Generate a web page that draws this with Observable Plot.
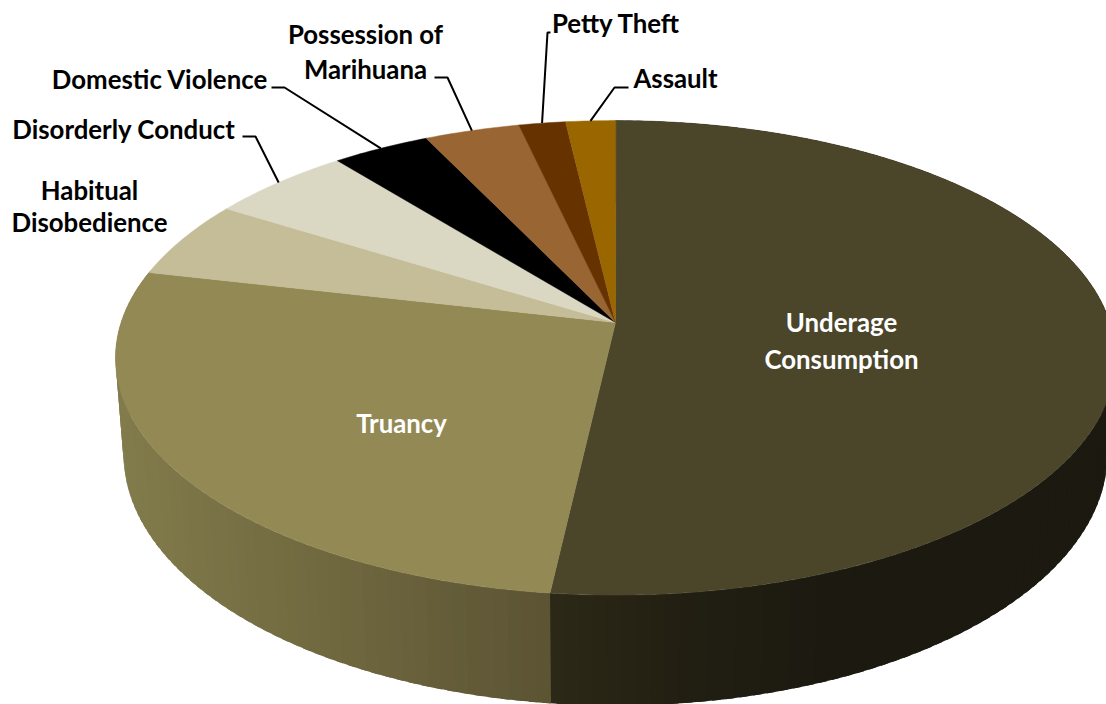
<!DOCTYPE html>
<html>
<head>
<meta charset="utf-8">
<style>html,body{margin:0;padding:0;background:#fff;overflow:hidden}</style>
<script src="https://cdn.jsdelivr.net/npm/d3@7"></script>
<script src="https://cdn.jsdelivr.net/npm/@observablehq/plot@0.6"></script>
</head>
<body>
<div id="chart"></div>
<script>
// Data (share of all offences, %), clockwise from 12 o'clock
const categories = ["Underage Consumption","Truancy","Habitual Disobedience","Disorderly Conduct","Domestic Violence","Possession of Marihuana","Petty Theft","Assault"];
const shares = [51.8,26.77,5.3,5.33,3.65,3.55,1.75,1.85];
const colors = ["#4b452a","#938954","#c4bd97","#dad7c2","#000000","#996633","#663300","#996600"];

// View set-up of the tilted disc
const W = 1106, H = 704, K = 0.149;
const topFace = {cx:615, cy:322, A:494.4, B:232};
const baseFace = {cx:615, cy:416, A:486.5, B:246};
const rim = (f, th) => {
  const u = Math.sin(th), v = Math.cos(th), w = 1 + K * v;
  return [f.cx + f.A * u / w, f.cy - f.B * v / w];
};

// Side-wall shading per slice, left to right on the screen
const sideStops = {
  "Truancy": [[115,"#827b4b"],[330,"#6f683f"],[551,"#5b5333"]],
  "Underage Consumption": [[551,"#2c2817"],[700,"#211e12"],[860,"#1b1910"],[1120,"#1b1910"]]
};
const sideColor = (name, x) => {
  const s = sideStops[name];
  return d3.scaleLinear().domain(s.map(d => d[0])).range(s.map(d => d[1])).interpolate(d3.interpolateRgb).clamp(true)(x);
};

// Turn the shares into polygons
const total = d3.sum(shares);
const cum = d3.cumsum(shares);
const ang = p => p / total * 2 * Math.PI;
const slices = categories.map((name, i) => ({name, color:colors[i], a0:ang(i ? cum[i-1] : 0), a1:ang(cum[i])}));

const topRows = [];
for (const s of slices) {
  const n = Math.max(4, Math.ceil((s.a1 - s.a0) * 90));
  topRows.push({id:s.name, x:topFace.cx, y:topFace.cy, color:s.color});
  for (let j = 0; j <= n; j++) {
    const [x, y] = rim(topFace, s.a0 + (s.a1 - s.a0) * j / n);
    topRows.push({id:s.name, x, y, color:s.color});
  }
}
const sideRows = [];
for (const s of slices.slice(0, 2)) {
  const lo = s.a0, hi = s.a1;
  const n = Math.ceil((hi - lo) * 40);
  for (let j = 0; j < n; j++) {
    const t0 = lo + (hi - lo) * j / n;
    const t1 = lo + (hi - lo) * (j + 1.6) / n; // strips overlap so no seams show; the next slice covers the excess
    const tm = lo + (hi - lo) * (j + 0.5) / n;
    const c = sideColor(s.name, rim(topFace, tm)[0]);
    const pts = [rim(topFace, t0), rim(topFace, t1), rim(baseFace, t1), rim(baseFace, t0)];
    for (const [x, y] of pts) sideRows.push({id:s.name + j, x, y, color:c});
  }
}

// Label layout: one row per text line
const labelLines = [
  {t:"Underage", x:841, y:323, c:"#fff"},
  {t:"Consumption", x:841, y:360, c:"#fff"},
  {t:"Truancy", x:401, y:424, c:"#fff"},
  {t:"Habitual", x:89, y:191, c:"#000"},
  {t:"Disobedience", x:89, y:223, c:"#000"},
  {t:"Disorderly Conduct", x:123, y:130, c:"#000"},
  {t:"Domestic Violence", x:159, y:80, c:"#000"},
  {t:"Possession of", x:365, y:35, c:"#000"},
  {t:"Marihuana", x:365, y:70, c:"#000"},
  {t:"Petty Theft", x:615, y:24, c:"#000"},
  {t:"Assault", x:675, y:79, c:"#000"}
];
// Leader lines: text-side points, then the point on the slice rim
const leaderElbows = {
  "Disorderly Conduct": [[242,136],[255,136]],
  "Domestic Violence": [[271,87],[284,87]],
  "Possession of Marihuana": [[434,77],[447,77]],
  "Petty Theft": [[550,32],[547,32]],
  "Assault": [[628,87],[614,87]]
};
const leaderRows = [];
for (const s of slices) {
  const e = leaderElbows[s.name];
  if (!e) continue;
  const end = rim(topFace, (s.a0 + s.a1) / 2);
  for (const [x, y] of [...e, end]) leaderRows.push({id:s.name, x, y});
}

const fill = {x:"x", y:"y", z:"id", fill:"color", strokeWidth:0, curve:"linear-closed"};
const chart = Plot.plot({
  width:W, height:H, margin:0, style:{background:"#fff", overflow:"hidden"},
  x:{domain:[0,W], range:[0,W], axis:null},
  y:{domain:[0,H], range:[0,H], axis:null},
  color:{type:"identity"},
  marks:[
    Plot.line(sideRows, fill),
    Plot.line(topRows, {...fill, stroke:"color", strokeWidth:0.5}),
    Plot.line(leaderRows, {x:"x", y:"y", z:"id", stroke:"#000", strokeWidth:2, strokeLinejoin:"miter", strokeLinecap:"butt"}),
    Plot.text(labelLines, {x:"x", y:"y", text:"t", fill:"c", fontFamily:"Lato", fontWeight:700, fontSize:25.8, textAnchor:"middle", lineAnchor:"middle"})
  ]
});
document.getElementById("chart").appendChild(chart);
</script>
</body>
</html>
